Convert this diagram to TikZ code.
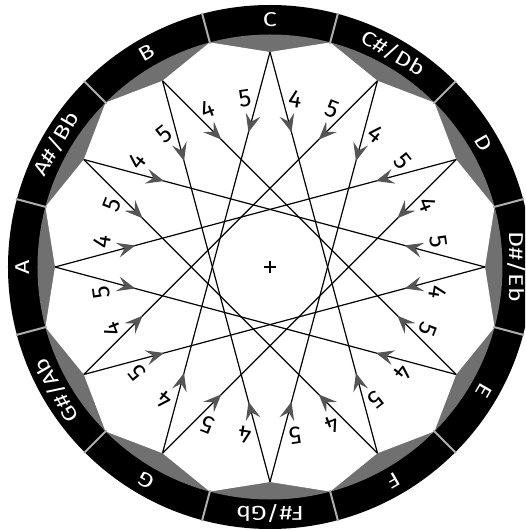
\documentclass[tikz,border=0pt]{standalone}
\usepackage{fontspec}
\setmainfont{Fira Sans}
\newfontfamily\notefont[FakeStretch=1.25]{Fira Sans}
\usetikzlibrary{arrows.meta,decorations.markings,calc}
\definecolor{ringgray}{RGB}{112,112,112}
\definecolor{divgray}{RGB}{175,175,175}
\definecolor{arrowgray}{RGB}{85,85,85}
\tikzset{
  fivetip/.tip={Stealth[length=18pt,width=15pt,inset=7pt]},
  starline/.style={line width=1.2pt, draw=black, postaction={decorate},
    decoration={markings,
      mark=at position 0.2 with {\arrow[arrowgray]{fivetip}},
      mark=at position 0.8 with {\arrowreversed[arrowgray]{fivetip}}}},
  notelabel/.style={text=white, inner sep=0pt, font=\notefont\fontsize{20}{22}\selectfont},
  digitlabel/.style={text=black, inner sep=0pt, font=\fontsize{25}{27}\selectfont},
  divider/.style={draw=divgray, line width=2pt},
  centermark/.style={line width=1.5pt, draw=black}
}
\begin{document}
\begin{tikzpicture}[x=1pt,y=1pt]
\useasboundingbox (-270,-263) rectangle (255,267);
\clip (-270,-263) rectangle (255,267);
% black ring
\fill[black, even odd rule] (0,0) circle (262) (0,0) circle (232);
% gray band
\fill[ringgray] (0,0) circle (232.5);
% white 24-gon
\fill[white] (90:215) \foreach \k in {0,...,11}{ -- ({90-30*\k}:215) -- ({75-30*\k}:232.5)} -- cycle;
% dividers
\foreach \k in {0,...,11}{
  \draw[divider] ({75-30*\k}:231) -- ({75-30*\k}:263);
}
% note labels
\foreach \name [count=\i from 0] in {C,C\#/Db,D,D\#/Eb,E,F,F\#/Gb,G,G\#/Ab,A,A\#/Bb,B}{
  \node[notelabel, rotate={-30*\i}] (n\i) at ({90-30*\i}:247) {\name};
}
% star vertices
\foreach \k in {0,...,11}{
  \coordinate (v\k) at ({90-30*\k}:215);
}
% star lines
\foreach \k in {0,...,11}{
  \pgfmathtruncatemacro{\j}{mod(\k+5,12)}
  \draw[starline] (v\k) -- (v\j);
}
% interval labels
\foreach \k in {0,...,11}{
  \pgfmathsetmacro{\a}{90-30*\k}
  \node[digitlabel, rotate={\a-8.5-90}] (f\k) at ({\a-8.5}:170) {4};
  \node[digitlabel, rotate={\a+8.5-90}] (g\k) at ({\a+8.5}:170) {5};
}
% centre mark
\coordinate (c) at (0,0);
\draw[centermark] ($(c)+(-6,0)$) -- ($(c)+(6,0)$);
\draw[centermark] ($(c)+(0,-6)$) -- ($(c)+(0,6)$);
\end{tikzpicture}
\end{document}
